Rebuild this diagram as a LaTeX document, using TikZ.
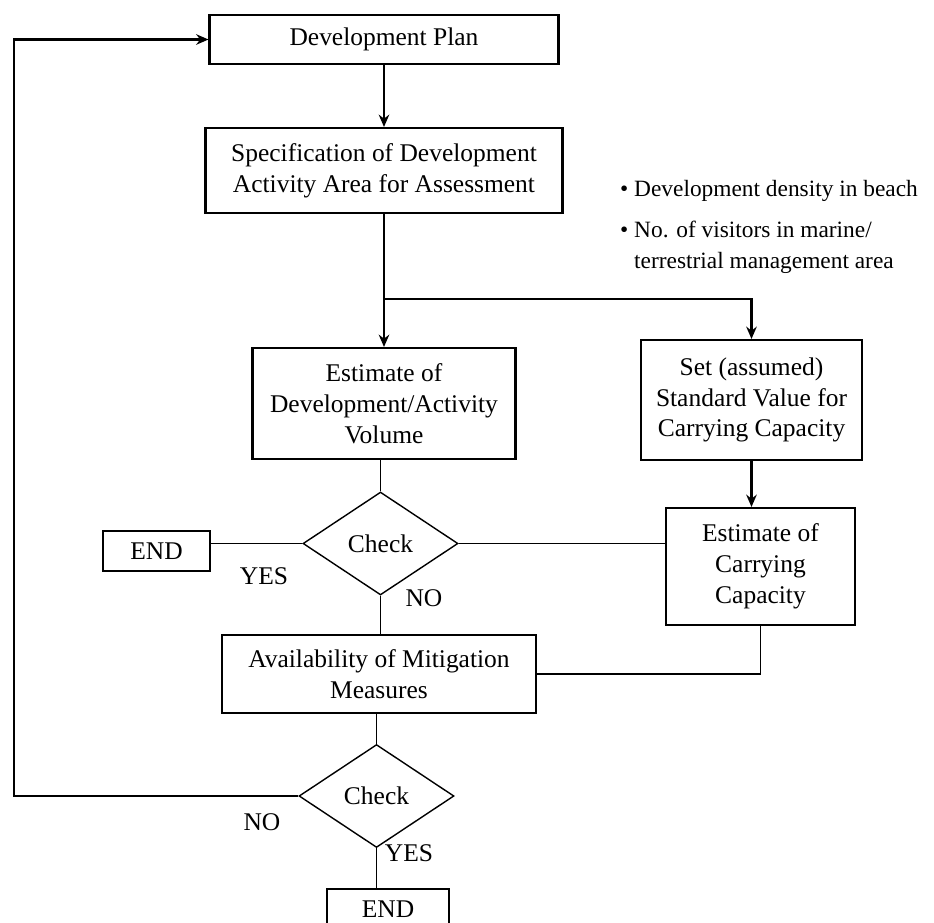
\documentclass[tikz,border=0pt]{standalone}
\usepackage{fontspec}
\setmainfont{Liberation Serif}
\usetikzlibrary{arrows.meta,positioning,shapes.geometric,calc}

\tikzset{
  stepbox/.style={draw, line width=1.2pt, align=center, inner sep=0pt,
    font=\fontsize{14.5}{17.5}\selectfont},
  checkbox/.style={draw, diamond, line width=0.8pt, inner sep=0pt,
    minimum width=3.1cm, minimum height=2.06cm, font=\fontsize{14.5}{17.5}\selectfont},
  endbox/.style={stepbox, minimum height=0.8cm},
  link/.style={line width=1pt},
  flow/.style={line width=1.3pt, -{Stealth[length=7pt,width=6pt]}},
  answer/.style={font=\fontsize{14.5}{17.5}\selectfont},
  note/.style={anchor=west, align=left, font=\fontsize{13.3}{17.6}\selectfont},
}

\begin{document}
\begin{tikzpicture}[x=0.02cm, y=-0.02cm]
  \useasboundingbox (0,0) rectangle (934,923);

  % Main column
  \node[stepbox, minimum width=6.98cm, minimum height=0.98cm] (plan) at (384,39.5) {Development Plan};
  \node[stepbox, minimum width=7.14cm, minimum height=1.7cm] (spec) at (384,170.5)
    {Specification of Development\\Activity Area for Assessment};
  \node[stepbox, minimum width=5.26cm, minimum height=2.22cm] (volume) at (384,403.5)
    {Estimate of\\Development/Activity\\Volume};
  \node[checkbox] (check1) at (380.5,543.5) {Check};
  \node[endbox, minimum width=2.14cm] (end1) at (156.5,551) {END};
  \node[stepbox, minimum width=6.28cm, minimum height=1.56cm] (mitigation) at (379,674)
    {Availability of Mitigation\\Measures};
  \node[checkbox] (check2) at (376.5,796) {Check};
  \node[endbox, minimum width=2.44cm] (end2) at (388,909) {END};

  % Carrying capacity column
  \node[stepbox, minimum width=4.42cm, minimum height=2.4cm] (standard) at (751.5,400)
    {Set (assumed)\\Standard Value for\\Carrying Capacity};
  \node[stepbox, minimum width=3.78cm, minimum height=2.34cm] (capacity) at (760.5,566.5)
    {Estimate of\\Carrying\\Capacity};

  % Notes
  \node[note] (note1) at (614,191) {\textbullet\ Development density in beach};
  \node[note] (note2) at (614,247)
    {\textbullet\ No. of visitors in marine/\\\phantom{\textbullet\ }terrestrial management area};

  % Answers
  \node[answer] (yes1) at (264,576) {YES};
  \node[answer] (no1) at (424,598) {NO};
  \node[answer] (no2) at (262,822) {NO};
  \node[answer] (yes2) at (409,853) {YES};

  % Connectors
  \coordinate (split) at (384,299);
  \coordinate (back) at (14,796);
  \draw[flow] (plan) -- (spec);
  \draw[link] (spec) -- (split);
  \draw[flow] (split) -- (volume);
  \draw[flow] (split) -| (standard);
  \draw[flow] (standard.south) -- (standard.south |- capacity.north);
  \draw[link] (check1.north |- volume.south) -- (check1.north);
  \draw[link] (check1.west) -- (check1.west -| end1.east);
  \draw[link] (check1.east) -- (check1.east -| capacity.west);
  \draw[link] (check1.south) -- (check1.south |- mitigation.north);
  \draw[link] (capacity.south) |- (mitigation.east);
  \draw[link] (check2.north |- mitigation.south) -- (check2.north);
  \draw[link] (check2.south) -- (check2.south |- end2.north);
  \draw[flow] (check2.west) -- (back) |- (plan.west);
\end{tikzpicture}
\end{document}
